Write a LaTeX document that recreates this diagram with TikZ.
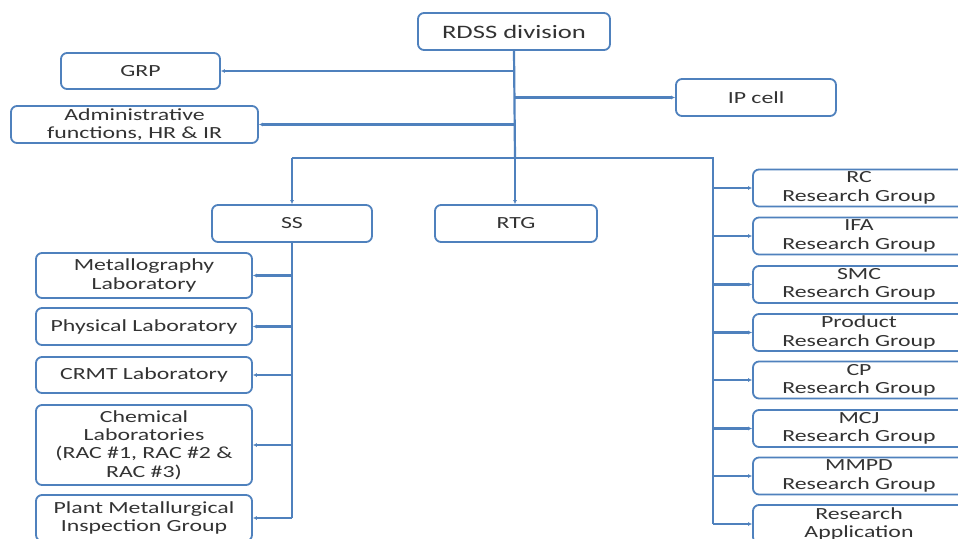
\documentclass[tikz,border=0pt]{standalone}
\usepackage{fontspec}
\setmainfont{Carlito}[FakeStretch=1.4]
\usetikzlibrary{arrows.meta}
\definecolor{boxblue}{HTML}{4F81BD}
\definecolor{textgray}{HTML}{333333}

\begin{document}
\begin{tikzpicture}[x=1pt, y=-1pt]
		\tikzstyle {unit} = [draw=boxblue, line width=1.8pt, rounded corners=6pt, fill=white, inner sep=0pt, align=center, text=textgray, font=\fontsize{17}{18.3}\selectfont]
		\tikzstyle {link} = [draw=boxblue, line width=2.2pt]
		\tikzstyle {feed} = [link, -{Latex[length=4pt,width=4pt]}]

		\useasboundingbox (0,0) rectangle (958,538);
		\fill[white] (0,0) rectangle (958,538);
		\clip (0,0) rectangle (958,538);

		\node[unit, minimum width=192pt, minimum height=37pt, font=\fontsize{19}{20}\selectfont] (rdss) at (514,31.5) {RDSS division};
		\node[unit, minimum width=159pt, minimum height=36pt] (grp) at (140.5,71) {GRP};
		\node[unit, minimum width=247pt, minimum height=37pt] (admin) at (134.5,124.5) {Administrative\\functions, HR \& IR};
		\node[unit, minimum width=160pt, minimum height=37pt] (ip) at (756,97.5) {IP cell};
		\node[unit, minimum width=160pt, minimum height=37pt] (ss) at (292,223.5) {SS};
		\node[unit, minimum width=162pt, minimum height=37pt] (rtg) at (516,223.5) {RTG};

		\node[unit, minimum width=216pt, minimum height=45pt] (metal) at (144,275.5) {Metallography\\Laboratory};
		\node[unit, minimum width=216pt, minimum height=37pt] (phys) at (144,326.5) {Physical Laboratory};
		\node[unit, minimum width=216pt, minimum height=36pt] (crmt) at (144,375) {CRMT Laboratory};
		\node[unit, minimum width=216pt, minimum height=80pt] (chem) at (144,445) {Chemical\\Laboratories\\(RAC \#1, RAC \#2 \&\\RAC \#3)};
		\node[unit, minimum width=216pt, minimum height=46pt] (plant) at (144,518) {Plant Metallurgical\\Inspection Group};

		\foreach \name/\grpname/\y in {rc/RC/188, ifa/IFA/236, smc/SMC/284.5, product/Product/332.5, cp/CP/380, mcj/MCJ/428.5, mmpd/MMPD/476}
			\node[unit, minimum width=212pt, minimum height=37pt] (\name) at (859,\y) {\grpname\\Research Group};
		\node[unit, minimum width=212pt, minimum height=38pt] (ra) at (859,524) {Research\\Application};

		\coordinate (split) at (515,158);
		\coordinate (rail) at (713,158);

		\draw[link] (rdss.south) -- (split);
		\draw[feed] (split) -- (split |- rtg.north);
		\draw[feed] (rdss.south |- grp.east) -- (grp.east);
		\draw[feed] (rdss.south |- admin.east) -- (admin.east);
		\draw[feed] (rdss.south |- ip.west) -- (ip.west);

		\draw[link] (ss.north |- split) -- (rail) -- (rail |- ra.west);
		\draw[feed] (ss.north |- split) -- (ss.north);

		\draw[link] (ss.south) -- (ss.south |- plant.east);
		\foreach \lab in {metal, phys, crmt, chem, plant}
			\draw[feed] (ss.south |- \lab.east) -- (\lab.east);

		\foreach \name in {rc, ifa, smc, product, cp, mcj, mmpd, ra}
			\draw[feed] (rail |- \name.west) -- (\name.west);

	\end{tikzpicture}
\end{document}
